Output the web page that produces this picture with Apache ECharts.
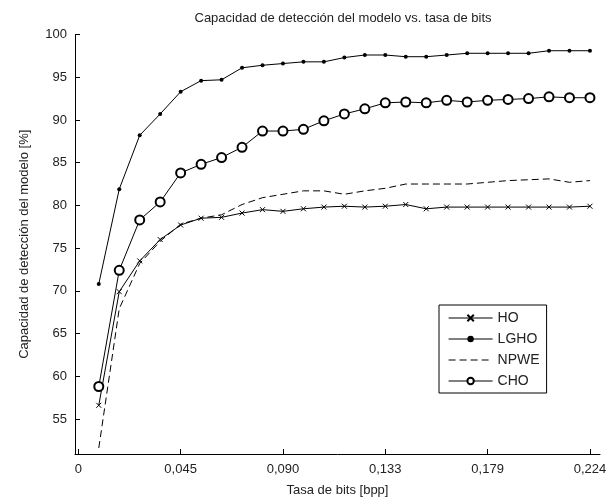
<!DOCTYPE html>
<html>
<head>
<meta charset="utf-8">
<script src="https://cdn.jsdelivr.net/npm/echarts@6/dist/echarts.min.js"></script>
<style>
html,body{margin:0;padding:0;background:#fff;}
#chart{width:616px;height:502px;}
</style>
</head>
<body>
<div id="chart"></div>
<script>
// x positions (bpp)
const xValues = [0.00896,0.01792,0.02688,0.03584,0.0448,0.05376,0.06272,0.07168,0.08064,0.0896,
  0.09856,0.10752,0.11648,0.12544,0.1344,0.14336,0.15232,0.16128,0.17024,0.1792,
  0.18816,0.19712,0.20608,0.21504,0.224];
const hoValues   = [56.6,69.9,73.5,76.0,77.7,78.5,78.6,79.1,79.5,79.3,79.6,79.8,79.9,79.8,79.9,80.1,79.6,79.8,79.8,79.8,79.8,79.8,79.8,79.8,79.9];
const lghoValues = [70.8,81.9,88.2,90.7,93.3,94.6,94.7,96.1,96.4,96.6,96.8,96.8,97.3,97.6,97.6,97.4,97.4,97.6,97.8,97.8,97.8,97.8,98.1,98.1,98.1];
const npweValues = [51.6,67.9,73.2,75.8,77.8,78.5,78.9,80.1,80.9,81.3,81.7,81.7,81.3,81.7,82.0,82.5,82.5,82.5,82.5,82.7,82.9,83.0,83.1,82.7,82.9];
const choValues  = [58.8,72.4,78.3,80.4,83.8,84.8,85.6,86.8,88.7,88.7,88.9,89.9,90.7,91.3,92.0,92.1,92.0,92.3,92.1,92.3,92.4,92.5,92.7,92.6,92.6];
const xTickValues = [0,0.0448,0.0896,0.1344,0.1792,0.224];
const xTickLabels = ['0','0,045','0,090','0,133','0,179','0,224'];
const yTickValues = [55,60,65,70,75,80,85,90,95,100];
const seriesNames = ['HO','LGHO','NPWE','CHO'];

const pair = (vals) => xValues.map((x,i)=>[x,vals[i]]);
const FONT = '"Liberation Sans", Arial, sans-serif';
const TXT = '#222';

const legendData = seriesNames.map(n => n === 'NPWE'
  ? {name:n, itemStyle:{opacity:0}}
  : {name:n});

const chart = echarts.init(document.getElementById('chart'), null, {renderer:'canvas'});
const xMark = 'path://M0,0L10,10M10,0L0,10';
const baseLine = {color:'#000', width:1};
chart.setOption({
  animation:false,
  backgroundColor:'#fff',
  title:{
    text:'Capacidad de detección del modelo vs. tasa de bits',
    left:338, top:7, textAlign:'center',
    textStyle:{fontFamily:FONT, fontSize:13, fontWeight:'normal', color:TXT}
  },
  grid:{left:75, right:16, top:34.5, bottom:42.5, containLabel:false},
  legend:{
    orient:'vertical', left:439, top:305,
    data:legendData,
    borderColor:'#000', borderWidth:1, borderRadius:0,
    padding:[6,7,5,9],
    itemWidth:44, itemHeight:8, itemGap:7,
    lineStyle:{width:1.2, color:'#000'},
    textStyle:{fontFamily:FONT, fontSize:14, color:TXT}
  },
  xAxis:{
    type:'value', min:-0.00145, max:0.2284,
    name:'Tasa de bits [bpp]', nameLocation:'middle', nameGap:30,
    nameTextStyle:{fontFamily:FONT, fontSize:13, color:TXT},
    axisLine:{show:true, onZero:false, lineStyle:{color:'#000', width:1}},
    axisTick:{show:true, inside:true, length:5, customValues:xTickValues, lineStyle:{color:'#000'}},
    axisLabel:{customValues:xTickValues, fontFamily:FONT, fontSize:13, color:TXT, margin:9,
      formatter:(v)=>{const i=xTickValues.findIndex(t=>Math.abs(t-v)<1e-6);return i>=0?xTickLabels[i]:'';}},
    splitLine:{show:false}
  },
  yAxis:{
    type:'value', min:50.9, max:100,
    name:'Capacidad de detección del modelo [%]', nameLocation:'middle', nameGap:44,
    nameTextStyle:{fontFamily:FONT, fontSize:13, color:TXT},
    axisLine:{show:true, onZero:false, lineStyle:{color:'#000', width:1}},
    axisTick:{show:true, inside:true, length:5, customValues:yTickValues, lineStyle:{color:'#000'}},
    axisLabel:{customValues:yTickValues, fontFamily:FONT, fontSize:13, color:TXT, margin:8},
    splitLine:{show:false}
  },
  series:[
    {name:'HO', type:'line', data:pair(hoValues), symbol:xMark, symbolSize:5,
     lineStyle:baseLine, itemStyle:{color:'#000', borderColor:'#000', borderWidth:1}},
    {name:'LGHO', type:'line', data:pair(lghoValues), symbol:'circle', symbolSize:4,
     lineStyle:baseLine, itemStyle:{color:'#000'}},
    {name:'NPWE', type:'line', data:pair(npweValues), symbol:'none', showSymbol:false,
     lineStyle:{color:'#000', width:1, type:[7,4]}, itemStyle:{color:'#000'}},
    {name:'CHO', type:'line', data:pair(choValues), symbol:'emptyCircle', symbolSize:9,
     lineStyle:baseLine, itemStyle:{color:'#000', borderColor:'#111', borderWidth:1}}
  ]
});
</script>
</body>
</html>
